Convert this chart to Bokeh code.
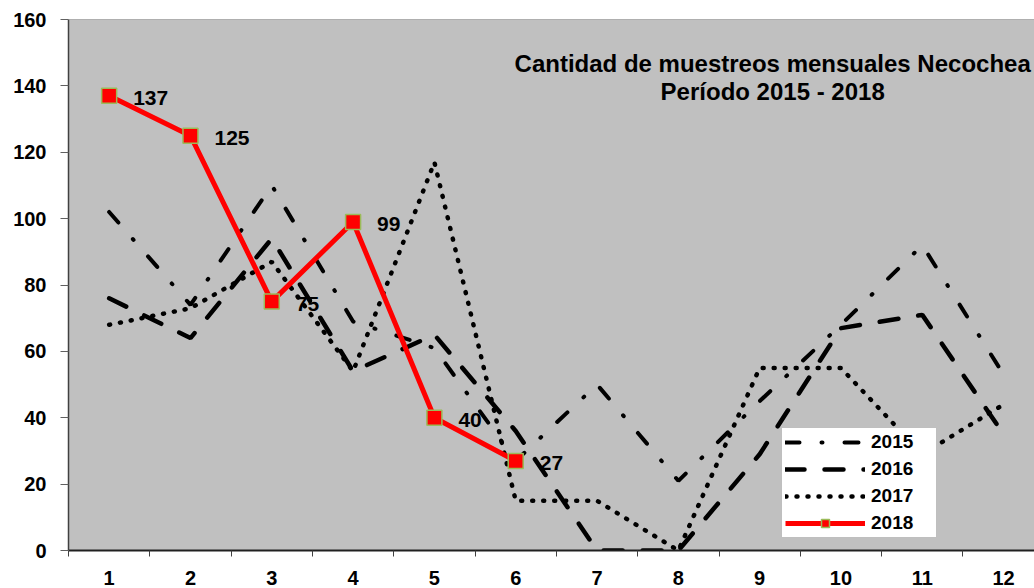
from bokeh.plotting import figure
from bokeh.models import Range1d, FixedTicker, Legend, LegendItem, Span
from bokeh.core.properties import value
from bokeh.embed import file_html
from bokeh.resources import INLINE

# ---- data ----
months = [1, 2, 3, 4, 5, 6, 7, 8, 9, 10, 11, 12]
s2015 = [102, 74, 110, 69, 61, 27, 50, 21, 45, 68, 92, 53]
s2016 = [76, 64, 94, 54, 65, 36, 0, 0, 29, 67, 71, 35]
s2017 = [68, 73, 87, 54, 117, 15, 15, 0, 55, 55, 29, 44]
months_2018 = [1, 2, 3, 4, 5, 6]
s2018 = [137, 125, 75, 99, 40, 27]
y_ticks = [0, 20, 40, 60, 80, 100, 120, 140, 160]
series_names = ["2015", "2016", "2017", "2018"]
title_lines = ["Cantidad de muestreos mensuales Necochea", "Período 2015 - 2018"]

FONT = "Liberation Sans"

p = figure(width=1034, height=588, output_backend="svg", toolbar_location=None,
           title=None,
           x_range=Range1d(0.5, 12.38), y_range=Range1d(0, 160),
           min_border_left=68, min_border_right=0, min_border_top=19,
           min_border_bottom=38,
           background_fill_color="#C0C0C0", border_fill_color="white",
           outline_line_color=None)

p.xgrid.visible = False
p.ygrid.visible = False

# y axis
ya = p.yaxis[0]
ya.ticker = FixedTicker(ticks=y_ticks)
ya.major_tick_in = 0
ya.major_tick_out = 8
ya.minor_tick_in = 0
ya.minor_tick_out = 0
ya.axis_line_color = "#404040"
ya.axis_line_width = 1.5
ya.major_tick_line_color = "#606060"
ya.major_label_text_font = FONT
ya.major_label_text_font_style = "bold"
ya.major_label_text_font_size = "20px"
ya.major_label_text_color = "black"
ya.major_label_standoff = 14

# x axis
xa = p.xaxis[0]
xa.ticker = FixedTicker(ticks=months, minor_ticks=[m - 0.5 for m in months] + [months[-1] + 0.5])
xa.major_tick_in = 0
xa.major_tick_out = 0
xa.minor_tick_in = 0
xa.minor_tick_out = 6
xa.minor_tick_line_color = "#404040"
xa.axis_line_color = "#202020"
xa.axis_line_width = 2
xa.major_label_text_font = FONT
xa.major_label_text_font_style = "bold"
xa.major_label_text_font_size = "20px"
xa.major_label_text_color = "black"
xa.major_label_standoff = 14

p.add_layout(Span(location=y_ticks[-1], dimension="width", line_color="#808080", line_width=1))

# series
r15 = p.line(months, s2015, line_color="black", line_width=4, line_dash="14 22 1 22", line_cap="round")
r16 = p.line(months, s2016, line_color="black", line_width=4.5, line_dash="19 20", line_cap="round")
r17 = p.line(months, s2017, line_color="black", line_width=4.5, line_dash="1 10", line_cap="round")
r18 = p.line(months_2018, s2018, line_color="#FF0000", line_width=5)
m18 = p.scatter(months_2018, s2018, marker="square", size=15, fill_color="#FF0000",
                line_color="#9BBB59", line_width=1.5)

# data labels
p.text(x=months_2018, y=s2018, text=[str(v) for v in s2018], x_offset=24, y_offset=2,
       text_baseline="middle", text_align="left", text_font=value(FONT),
       text_font_style="bold", text_font_size="21px", text_color="black")

# title inside plot
p.text(x=[9.16, 9.16], y=[146.7, 138.3], text=title_lines, text_align="center",
       text_baseline="alphabetic", text_font=value(FONT), text_font_style="bold",
       text_font_size="24px", text_color="black")

legend = Legend(items=[
    LegendItem(label=series_names[0], renderers=[r15]),
    LegendItem(label=series_names[1], renderers=[r16]),
    LegendItem(label=series_names[2], renderers=[r17]),
    LegendItem(label=series_names[3], renderers=[r18, m18]),
], location=(713, 12))
legend.background_fill_color = "white"
legend.background_fill_alpha = 1.0
legend.border_line_color = "#808080"
legend.border_line_width = 1
legend.padding = 3
legend.spacing = 5
legend.margin = 0
legend.glyph_width = 80
legend.glyph_height = 20
legend.label_height = 20
legend.label_width = 62
legend.label_standoff = 6
legend.label_text_font = FONT
legend.label_text_font_style = "bold"
legend.label_text_font_size = "19px"
legend.label_text_color = "black"
p.add_layout(legend)

open("out.html", "w").write(file_html(p, INLINE))
